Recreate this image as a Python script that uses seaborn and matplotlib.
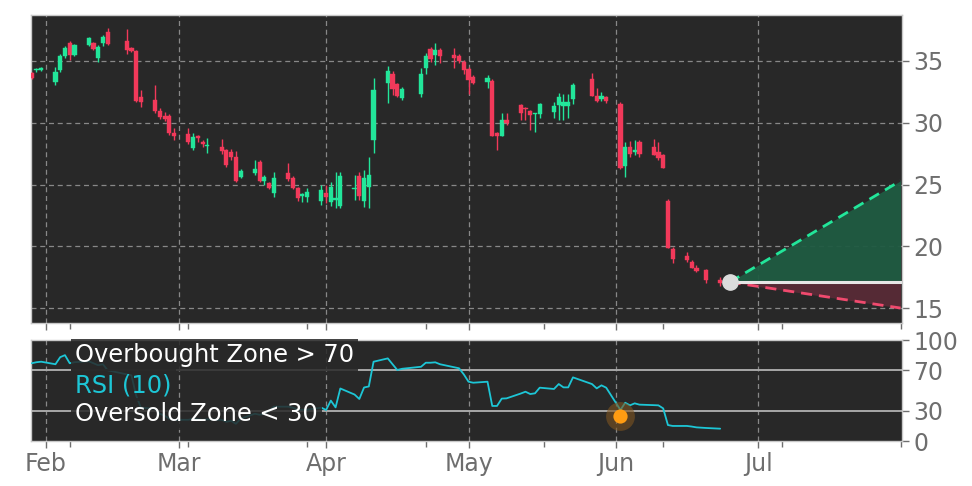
import matplotlib
matplotlib.use("Agg")
import matplotlib.pyplot as plt
import matplotlib.dates as mdates
from matplotlib.ticker import FixedLocator
import seaborn as sns
import pandas as pd
import numpy as np

# ---------------- data ----------------
dates = ["2025-01-29", "2025-01-30", "2025-01-31",
         "2025-02-03", "2025-02-04", "2025-02-05", "2025-02-06", "2025-02-07",
         "2025-02-10", "2025-02-11", "2025-02-12", "2025-02-13", "2025-02-14",
         "2025-02-18", "2025-02-19", "2025-02-20", "2025-02-21",
         "2025-02-24", "2025-02-25", "2025-02-26", "2025-02-27", "2025-02-28",
         "2025-03-03", "2025-03-04", "2025-03-05", "2025-03-06", "2025-03-07",
         "2025-03-10", "2025-03-11", "2025-03-12", "2025-03-13", "2025-03-14",
         "2025-03-17", "2025-03-18", "2025-03-19", "2025-03-20", "2025-03-21",
         "2025-03-24", "2025-03-25", "2025-03-26", "2025-03-27", "2025-03-28",
         "2025-03-31", "2025-04-01", "2025-04-02", "2025-04-03", "2025-04-04",
         "2025-04-07", "2025-04-08", "2025-04-09", "2025-04-10", "2025-04-11",
         "2025-04-14", "2025-04-15", "2025-04-16", "2025-04-17",
         "2025-04-21", "2025-04-22", "2025-04-23", "2025-04-24", "2025-04-25",
         "2025-04-28", "2025-04-29", "2025-04-30", "2025-05-01", "2025-05-02",
         "2025-05-05", "2025-05-06", "2025-05-07", "2025-05-08", "2025-05-09",
         "2025-05-12", "2025-05-13", "2025-05-14", "2025-05-15", "2025-05-16",
         "2025-05-19", "2025-05-20", "2025-05-21", "2025-05-22", "2025-05-23",
         "2025-05-27", "2025-05-28", "2025-05-29", "2025-05-30",
         "2025-06-02", "2025-06-03", "2025-06-04", "2025-06-05", "2025-06-06",
         "2025-06-09", "2025-06-10", "2025-06-11", "2025-06-12", "2025-06-13",
         "2025-06-16", "2025-06-17", "2025-06-18", "2025-06-20",
         "2025-06-23"]

opens = [34.0, 34.25, 34.3,
         33.32, 34.27, 35.43, 36.43, 35.49,
         36.30, 36.43, 35.27, 36.43, 37.32,
         36.62, 36.03, 35.81, 32.11,
         31.84, 30.95, 30.57, 30.57, 29.20,
         29.09, 27.93, 28.93, 28.47, 28.12,
         28.01, 27.79, 27.66, 27.25, 25.58,
         25.96, 26.85, 25.31, 25.14, 24.29,
         25.96, 25.50, 24.69, 24.07, 23.96,
         23.69, 24.29, 23.56, 23.72, 23.28,
         24.64, 25.71, 23.66, 24.82, 28.60,
         33.19, 33.92, 33.11, 32.03,
         32.30, 34.46, 35.97, 35.49, 35.89,
         35.49, 35.43, 34.89, 34.35, 33.73,
         33.28, 33.38, 29.15, 28.95, 30.22,
         31.44, 31.22, 30.95, 30.68, 30.68,
         30.85, 31.44, 31.38, 31.38, 31.92,
         33.54, 32.19, 31.92, 32.11,
         31.49, 26.52, 28.06, 27.61, 28.47,
         28.06, 27.61, 27.39, 23.66, 19.78,
         19.23, 18.75, 18.26, 18.08,
         17.27]

closes = [33.62, 34.36, 34.4,
          34.13, 35.43, 36.08, 35.49, 36.30,
          36.84, 35.97, 36.16, 36.97, 36.35,
          35.89, 35.81, 31.76, 31.66,
          30.95, 30.49, 30.30, 29.15, 28.95,
          28.47, 28.87, 28.74, 28.28, 28.20,
          27.74, 26.58, 27.20, 25.31, 26.12,
          26.23, 25.28, 25.58, 24.69, 25.50,
          25.42, 24.69, 23.88, 24.23, 24.42,
          24.55, 24.01, 24.82, 23.88, 25.69,
          24.74, 24.09, 25.55, 25.77, 32.65,
          34.19, 32.73, 32.19, 32.73,
          33.92, 35.43, 35.16, 35.89, 35.43,
          35.22, 35.00, 34.27, 33.46, 33.24,
          33.65, 28.95, 28.95, 30.22, 29.96,
          30.77, 31.11, 30.63, 30.77, 31.49,
          31.38, 32.11, 31.66, 31.66, 33.06,
          32.19, 31.76, 32.19, 31.76,
          26.31, 28.06, 27.45, 27.79, 27.45,
          27.39, 27.17, 26.36, 19.88, 18.97,
          18.89, 18.26, 18.00, 17.27,
          17.00]

highs = [34.1, 34.45, 34.5,
         34.54, 35.54, 36.24, 36.62, 36.40,
         36.92, 36.50, 36.30, 37.10, 37.70,
         37.59, 36.10, 35.90, 32.65,
         33.06, 31.20, 30.90, 30.70, 29.55,
         29.55, 29.20, 29.00, 28.60, 28.74,
         28.70, 27.90, 27.90, 27.70, 26.25,
         26.98, 26.95, 25.80, 25.20, 26.00,
         26.72, 25.70, 24.80, 24.35, 24.70,
         25.00, 25.00, 25.20, 26.04, 26.04,
         25.77, 26.04, 26.17, 27.25, 33.65,
         34.62, 34.19, 33.20, 32.92,
         34.41, 35.62, 36.16, 36.43, 36.03,
         36.03, 35.60, 35.08, 34.54, 33.87,
         33.87, 33.54, 29.28, 30.77, 30.77,
         31.49, 31.30, 31.03, 30.77, 31.60,
         31.66, 32.38, 32.30, 32.30, 33.19,
         34.00, 32.79, 32.46, 32.19,
         31.70, 28.47, 28.52, 28.60, 28.60,
         28.70, 28.47, 27.45, 23.83, 19.96,
         19.56, 18.89, 18.50, 18.16,
         17.53]

lows = [33.50, 34.10, 34.20,
        33.06, 34.13, 35.27, 35.08, 35.40,
        36.20, 35.90, 34.95, 36.20, 36.30,
        35.60, 35.70, 31.70, 31.30,
        30.80, 30.30, 30.10, 29.00, 28.60,
        28.30, 27.80, 28.45, 28.00, 27.53,
        27.50, 26.40, 27.00, 25.20, 25.50,
        25.77, 25.20, 25.00, 24.60, 24.00,
        25.30, 24.60, 23.70, 23.60, 23.60,
        23.35, 23.50, 23.30, 23.07, 23.07,
        23.75, 23.75, 23.20, 23.07, 27.53,
        31.57, 32.25, 32.10, 31.84,
        32.11, 33.92, 34.94, 34.68, 34.81,
        34.41, 34.80, 33.95, 32.30, 33.11,
        32.79, 28.90, 27.79, 28.90, 29.82,
        30.22, 30.20, 29.41, 29.28, 30.40,
        30.36, 30.22, 30.20, 30.40, 31.49,
        32.19, 31.70, 31.76, 31.57,
        26.25, 25.63, 27.25, 27.40, 27.20,
        27.40, 26.98, 26.30, 19.83, 18.62,
        18.75, 18.21, 17.95, 17.00,
        16.81]

rsi = [77, 78, 78.5,
       76, 83, 85, 77, 78,
       79, 77, 75, 76, 70,
       66, 65, 45, 33,
       32, 27, 25, 22, 21,
       21, 22, 21.5, 21, 21.5,
       21, 19, 20, 17, 22,
       27, 26, 27, 30, 34,
       34, 33, 31, 31, 31,
       33, 30.7, 40, 33.3, 52,
       46, 41.6, 53, 54, 78.5,
       81.8, 76, 70.3, 71.5,
       73.5, 77.5, 77.5, 77.9, 76,
       73, 72, 66, 58.7, 57.7,
       58.7, 34.7, 34.7, 42, 42.2,
       47, 48.8, 46.5, 47.2, 52.8,
       51.5, 56.4, 53.1, 53.1, 63,
       56.4, 52.1, 55.1, 52.8,
       30.7, 37.9, 35.3, 37.3, 36.0,
       35.5, 35.3, 32.3, 15.8, 14.9,
       14.9, 14.3, 13.5, 12.9,
       12.2]

# projection
proj_start_date = "2025-06-25"
proj_end_date = "2025-07-31"
proj_start = 17.1
proj_up = 25.3
proj_down = 15.0

# oversold signal
signal_date = "2025-06-02"
signal_rsi = 25

price_ticks = [15, 20, 25, 30, 35]
rsi_ticks = [0, 30, 70, 100]
legend_labels = ["Overbought Zone > 70", "RSI (10)", "Oversold Zone < 30"]
minor_tick_dates = ["2025-02-06", "2025-03-03", "2025-03-28", "2025-04-22",
                    "2025-05-17", "2025-06-11", "2025-07-06", "2025-07-31"]

# ---------------- style ----------------
sns.set_theme(style="dark")
plt.rcParams['font.family'] = ['DejaVu Sans']

BG = "#282828"
GREEN = "#22e69a"
RED = "#f2395a"
CYAN = "#1dc6d6"
TICK = "#6e6e6e"
GRID = "#9a9a9a"
SPINE = "#c8c8c8"

df = pd.DataFrame({"date": pd.to_datetime(dates), "open": opens, "high": highs,
                   "low": lows, "close": closes, "rsi": rsi})
df["up"] = df["close"] >= df["open"]
df["bottom"] = df[["open", "close"]].min(axis=1)
df["height"] = (df["close"] - df["open"]).abs().clip(lower=0.09)
df["color"] = np.where(df["up"], GREEN, RED)

fig = plt.figure(figsize=(9.72, 4.86), dpi=100)
fig.patch.set_facecolor("white")
ax = fig.add_axes([31 / 972, 1 - 323 / 486, 871 / 972, 308 / 486])
ax2 = fig.add_axes([31 / 972, 1 - 441 / 486, 871 / 972, 101 / 486])

for a in (ax, ax2):
    a.set_facecolor(BG)
    for s in a.spines.values():
        s.set_color(SPINE)
        s.set_linewidth(1.0)

# candles
ax.vlines(df["date"], df["low"], df["high"], colors=df["color"], linewidth=1.0, zorder=3)
ax.bar(df["date"], df["height"], bottom=df["bottom"], width=0.88,
       color=df["color"], edgecolor=df["color"], linewidth=0.3, zorder=4)

# projection
xs = pd.to_datetime([proj_start_date, proj_end_date])
ax.fill_between(xs, [proj_start, proj_start], [proj_start, proj_up],
                color="#1f5b42", alpha=0.95, linewidth=0, zorder=2)
ax.fill_between(xs, [proj_start, proj_down], [proj_start, proj_start],
                color="#582b36", alpha=0.95, linewidth=0, zorder=2)
ax.plot(xs, [proj_start, proj_up], color=GREEN, linestyle=(0, (4, 2.5)), linewidth=2, zorder=5)
ax.plot(xs, [proj_start, proj_down], color="#f04a6e", linestyle=(0, (4, 2.5)), linewidth=2, zorder=5)
ax.plot(xs, [proj_start, proj_start], color="#e6e6e6", linewidth=2.2, zorder=5)
ax.plot(xs[:1], [proj_start], marker="o", markersize=11, color="#dcdcdc",
        markeredgecolor="#dcdcdc", zorder=6)

ax.set_ylim(13.79, 38.72)
ax.set_yticks(price_ticks)
ax.yaxis.tick_right()
ax.grid(True, which="major", color=GRID, linestyle=(0, (4, 3)), linewidth=0.9, alpha=0.85)

# RSI panel
ax2.axhline(70, color="#a8a8a8", linewidth=1.4, zorder=2)
ax2.axhline(30, color="#a8a8a8", linewidth=1.4, zorder=2)
sns.lineplot(data=df, x="date", y="rsi", ax=ax2, color=CYAN, linewidth=1.3, zorder=3)
sd = pd.to_datetime([signal_date])
ax2.scatter(sd, [signal_rsi], s=430, color="#7e5520", alpha=0.6, linewidths=0, zorder=4)
ax2.scatter(sd, [signal_rsi], s=105, color="#ff9c12", linewidths=0, zorder=5)
ax2.set_ylim(0, 100)
ax2.set_yticks(rsi_ticks)
ax2.yaxis.tick_right()
ax2.set_xlabel("")
ax2.set_ylabel("")
ax2.grid(True, which="major", axis="x", color=GRID, linestyle=(0, (4, 3)), linewidth=0.9, alpha=0.85)
ax2.grid(False, axis="y")

xmin = mdates.date2num(pd.Timestamp("2025-01-28")) + 0.85
xmax = mdates.date2num(pd.Timestamp("2025-07-31")) + 0.3
for a in (ax, ax2):
    a.set_xlim(xmin, xmax)
    a.xaxis.set_major_locator(mdates.MonthLocator())
    a.xaxis.set_major_formatter(mdates.DateFormatter("%b"))
    a.xaxis.set_minor_locator(FixedLocator([mdates.date2num(pd.Timestamp(d)) for d in minor_tick_dates]))
    a.tick_params(axis="both", which="major", length=5, width=1, color=TICK,
                  labelsize=17, labelcolor=TICK, pad=3)
    a.tick_params(axis="x", which="minor", length=4, width=1, color=TICK)
    a.tick_params(axis="x", which="both", bottom=True)
    a.tick_params(axis="y", right=True, left=False)
ax.tick_params(axis="x", labelbottom=False)

# label boxes (each text with its own semi-opaque background)
label_y = [0.851, 0.554, 0.267]
label_colors = ["white", CYAN, "white"]
for txt, yy, col in zip(legend_labels, label_y, label_colors):
    ax2.text(0.0505, yy, txt, transform=ax2.transAxes, ha="left", va="center",
             fontsize=17.4, color=col, zorder=10,
             bbox=dict(boxstyle="square,pad=0.18", facecolor=BG, edgecolor="none",
                       alpha=0.85))

fig.savefig("out.png", dpi=100)
